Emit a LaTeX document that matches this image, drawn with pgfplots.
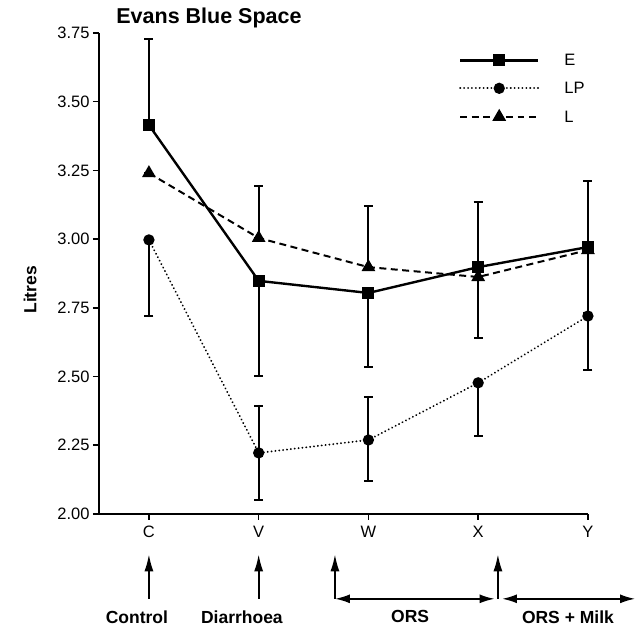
\documentclass[border=0pt]{standalone}
\usepackage{fontspec}
\setmainfont{Liberation Sans}
\usepackage{pgfplots}
\pgfplotsset{compat=1.18}
\usetikzlibrary{arrows.meta}

\newcommand{\regfont}{\fontsize{16.5bp}{19bp}\selectfont}
\newcommand{\boldfont}{\fontsize{17.5bp}{20bp}\selectfont\bfseries}

\pgfplotsset{
  ebars/.style={
    error bars/y dir=both,
    error bars/y explicit,
    error bars/error bar style={black, solid, line width=2pt},
    error bars/error mark=-,
    error bars/error mark options={rotate=90, black, solid, mark size=4.5bp, line width=1.8pt}},
}

\begin{document}
\begin{tikzpicture}
\begin{axis}[
  scale only axis, width=489bp, height=481bp,
  xmin=-0.455, xmax=4, ymin=2, ymax=3.75,
  clip=false,
  axis x line*=bottom, axis y line*=left,
  axis line style={line width=2pt, -},
  xtick={0,1,2,3,4}, xticklabels={C,V,W,X,Y},
  ytick={2,2.25,2.5,2.75,3,3.25,3.5,3.75},
  tick align=outside, major tick length=6bp,
  tick style={line width=1.5pt, black},
  ticklabel style={font=\regfont},
  xticklabel style={yshift=-3bp},
  /pgf/number format/assume math mode=true,
  yticklabel style={/pgf/number format/.cd, fixed, fixed zerofill, precision=2},
  ylabel={Litres},
  ylabel style={font=\boldfont, at={(axis description cs:-0.141,0.466)}, anchor=center},
  title={Evans Blue Space},
  title style={font=\fontsize{21.5bp}{24bp}\selectfont\bfseries, at={(axis description cs:0.225,1.019)}, anchor=center},
  legend style={draw=none, fill=none, at={(axis description cs:0.736,0.955)}, anchor=north west,
    inner sep=0pt, font=\regfont, row sep=17bp, column sep=25bp,
    nodes={inner sep=0pt, text height=11bp, text depth=0bp}},
  legend cell align=left,
  legend image code/.code={\draw[mark repeat=2, mark phase=2, #1] plot coordinates {(0bp,0bp) (39bp,0bp) (78bp,0bp)};},
]
% each point: += upper error, -= lower error (0 where no bar is drawn)
\addplot[black, line width=2.4pt, mark=square*, mark size=4.8bp, mark options={solid}, ebars] coordinates {
  (0,3.415) += (0,0.313) -= (0,0)
  (1,2.848) += (0,0)     -= (0,0.346)
  (2,2.804) += (0,0)     -= (0,0.269)
  (3,2.898) += (0,0.237) -= (0,0)
  (4,2.971) += (0,0.240) -= (0,0)
};
\addlegendentry{E}
\addplot[black, line width=2pt, line cap=round, dash pattern=on 0.1pt off 3.8pt, mark=*, mark size=4.6bp, mark options={solid}, ebars] coordinates {
  (0,2.997) += (0,0)     -= (0,0.277)
  (1,2.222) += (0,0.171) -= (0,0.171)
  (2,2.269) += (0,0.157) -= (0,0.149)
  (3,2.477) += (0,0)     -= (0,0.193)
  (4,2.720) += (0,0)     -= (0,0.196)
};
\addlegendentry{LP}
\addplot[black, line width=2pt, dash pattern=on 7pt off 4.5pt, mark=triangle*, mark size=6bp, mark options={solid}, ebars] coordinates {
  (0,3.240) += (0,0)     -= (0,0)
  (1,3.004) += (0,0.189) -= (0,0)
  (2,2.898) += (0,0.222) -= (0,0)
  (3,2.862) += (0,0)     -= (0,0.222)
  (4,2.960) += (0,0)     -= (0,0.230)
};
\addlegendentry{L}

% treatment annotations below the axis
\tikzset{ann/.style={line width=1.8pt}}
\draw[ann, -{Latex[length=17bp, width=9bp]}] (axis cs:0,1.691) -- (axis cs:0,1.853);
\draw[ann, -{Latex[length=17bp, width=9bp]}] (axis cs:1,1.691) -- (axis cs:1,1.853);
\draw[ann, -{Latex[length=17bp, width=9bp]}] (axis cs:1.695,1.691) -- (axis cs:1.695,1.853);
\draw[ann, -{Latex[length=17bp, width=9bp]}] (axis cs:3.18,1.691) -- (axis cs:3.18,1.853);
\draw[ann, {Latex[length=15bp, width=9bp]}-{Latex[length=15bp, width=9bp]}] (axis cs:1.695,1.691) -- (axis cs:3.15,1.691);
\draw[ann, {Latex[length=15bp, width=9bp]}-{Latex[length=15bp, width=9bp]}] (axis cs:3.217,1.691) -- (axis cs:4.43,1.691);
\node[font=\boldfont] at (axis cs:-0.11,1.625) {Control};
\node[font=\boldfont] at (axis cs:0.847,1.625) {Diarrhoea};
\node[font=\boldfont] at (axis cs:2.38,1.625) {ORS};
\node[font=\boldfont] at (axis cs:3.818,1.625) {ORS + Milk};

\path (axis cs:-1.357,1.578) rectangle (axis cs:4.437,3.870);
\end{axis}
\end{tikzpicture}
\end{document}
